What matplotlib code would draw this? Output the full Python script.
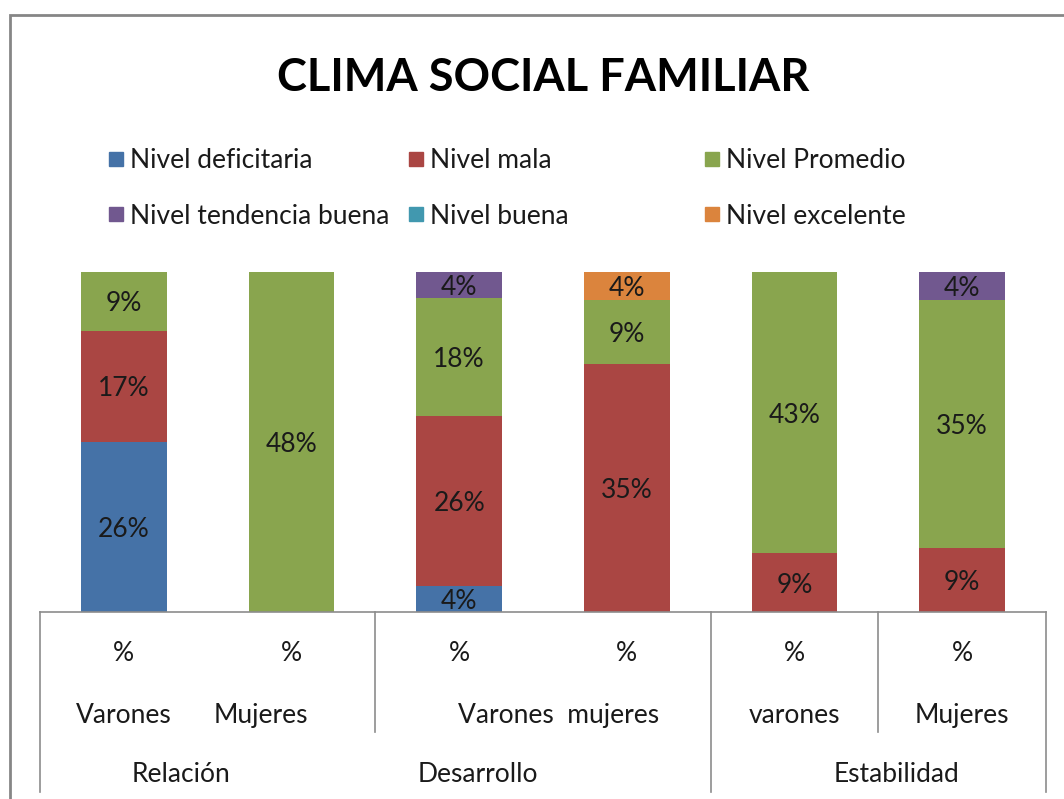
import matplotlib.pyplot as plt
from matplotlib.patches import Rectangle

plt.rcParams['font.family'] = ['Lato', 'DejaVu Sans']

# barras: (dimensión, sexo)
bar_labels = ["Varones", "Mujeres", "Varones", "mujeres", "varones", "Mujeres"]
groups = ["Relación", "Desarrollo", "Estabilidad"]

series_names = ["Nivel deficitaria", "Nivel mala", "Nivel Promedio",
                "Nivel tendencia buena", "Nivel buena", "Nivel excelente"]
deficitaria = [26, 0, 4, 0, 0, 0]
mala = [17, 0, 26, 35, 9, 9]
promedio = [9, 48, 18, 9, 43, 35]
tendencia_buena = [0, 0, 4, 0, 0, 4]
buena = [0, 0, 0, 0, 0, 0]
excelente = [0, 0, 0, 4, 0, 0]

series = [deficitaria, mala, promedio, tendencia_buena, buena, excelente]
colors = ["#4572A7", "#AA4643", "#89A54E", "#71588F", "#4198AF", "#DB843D"]

W, H = 1064, 799
FS = 19
fig = plt.figure(figsize=(W / 100, H / 100), dpi=100)
ax = fig.add_axes([40 / W, 1 - 612 / H, (1046 - 40) / W, (612 - 272) / H])

n = len(bar_labels)
totals = [sum(s[i] for s in series) for i in range(n)]
x = list(range(n))
bottom = [0.0] * n
for vals, col in zip(series, colors):
    frac = [v / t for v, t in zip(vals, totals)]
    ax.bar(x, frac, width=0.51, bottom=bottom, color=col, linewidth=0)
    for i in range(n):
        if vals[i] > 0:
            ax.text(i, bottom[i] + frac[i] / 2, f"{vals[i]}%", ha="center", va="center_baseline",
                    fontsize=FS, color="#1a1a1a")
    bottom = [b + f for b, f in zip(bottom, frac)]

ax.set_xlim(-0.5, n - 0.5)
ax.set_ylim(0, 1)
ax.axis("off")

# eje de categorías tipo tabla
tr = ax.get_xaxis_transform()
line_kw = dict(color="#8c8c8c", lw=1.2, transform=tr, clip_on=False)
ax.plot([-0.5, n - 0.5], [0, 0], **line_kw)
for xv, y_end in [(-0.5, -0.53), (1.5, -0.353), (3.5, -0.53), (4.5, -0.353), (5.5, -0.53)]:
    ax.plot([xv, xv], [0, y_end], **line_kw)

txt_kw = dict(ha="center", va="center", fontsize=FS, color="#1a1a1a", transform=tr)
for i in range(n):
    ax.text(i, -0.123, "%", **txt_kw)
ax.text(0, -0.303, "Varones", **txt_kw)
ax.text(0.82, -0.303, "Mujeres", **txt_kw)
ax.text(2.59, -0.303, bar_labels[2] + "  " + bar_labels[3], **txt_kw)
ax.text(4, -0.303, bar_labels[4], **txt_kw)
ax.text(5, -0.303, bar_labels[5], **txt_kw)
for gx, g in zip([0.34, 2.11, 4.61], groups):
    ax.text(gx, -0.477, g, **txt_kw)

# título
fig.text(543 / W, 1 - 78 / H, "CLIMA SOCIAL FAMILIAR", ha="center", va="center",
         fontsize=32.5, fontweight="bold", color="black")

# leyenda manual
col_x = [109, 409, 705]
row_y = [159, 214]
for k, (name, col) in enumerate(zip(series_names, colors)):
    cx = col_x[k % 3]
    cy = row_y[k // 3]
    fig.patches.append(Rectangle((cx / W, 1 - (cy + 7) / H), 14 / W, 14 / H,
                                 transform=fig.transFigure, color=col))
    fig.text((cx + 21) / W, 1 - (cy + 2) / H, name, ha="left", va="center",
             fontsize=FS, color="#1a1a1a")

# borde exterior
fig.patches.append(Rectangle((10 / W, -0.1), 1.5, 1 - 15 / H + 0.1, transform=fig.transFigure,
                             fill=False, edgecolor="#868686", lw=2))

fig.savefig("out.png", dpi=100)
